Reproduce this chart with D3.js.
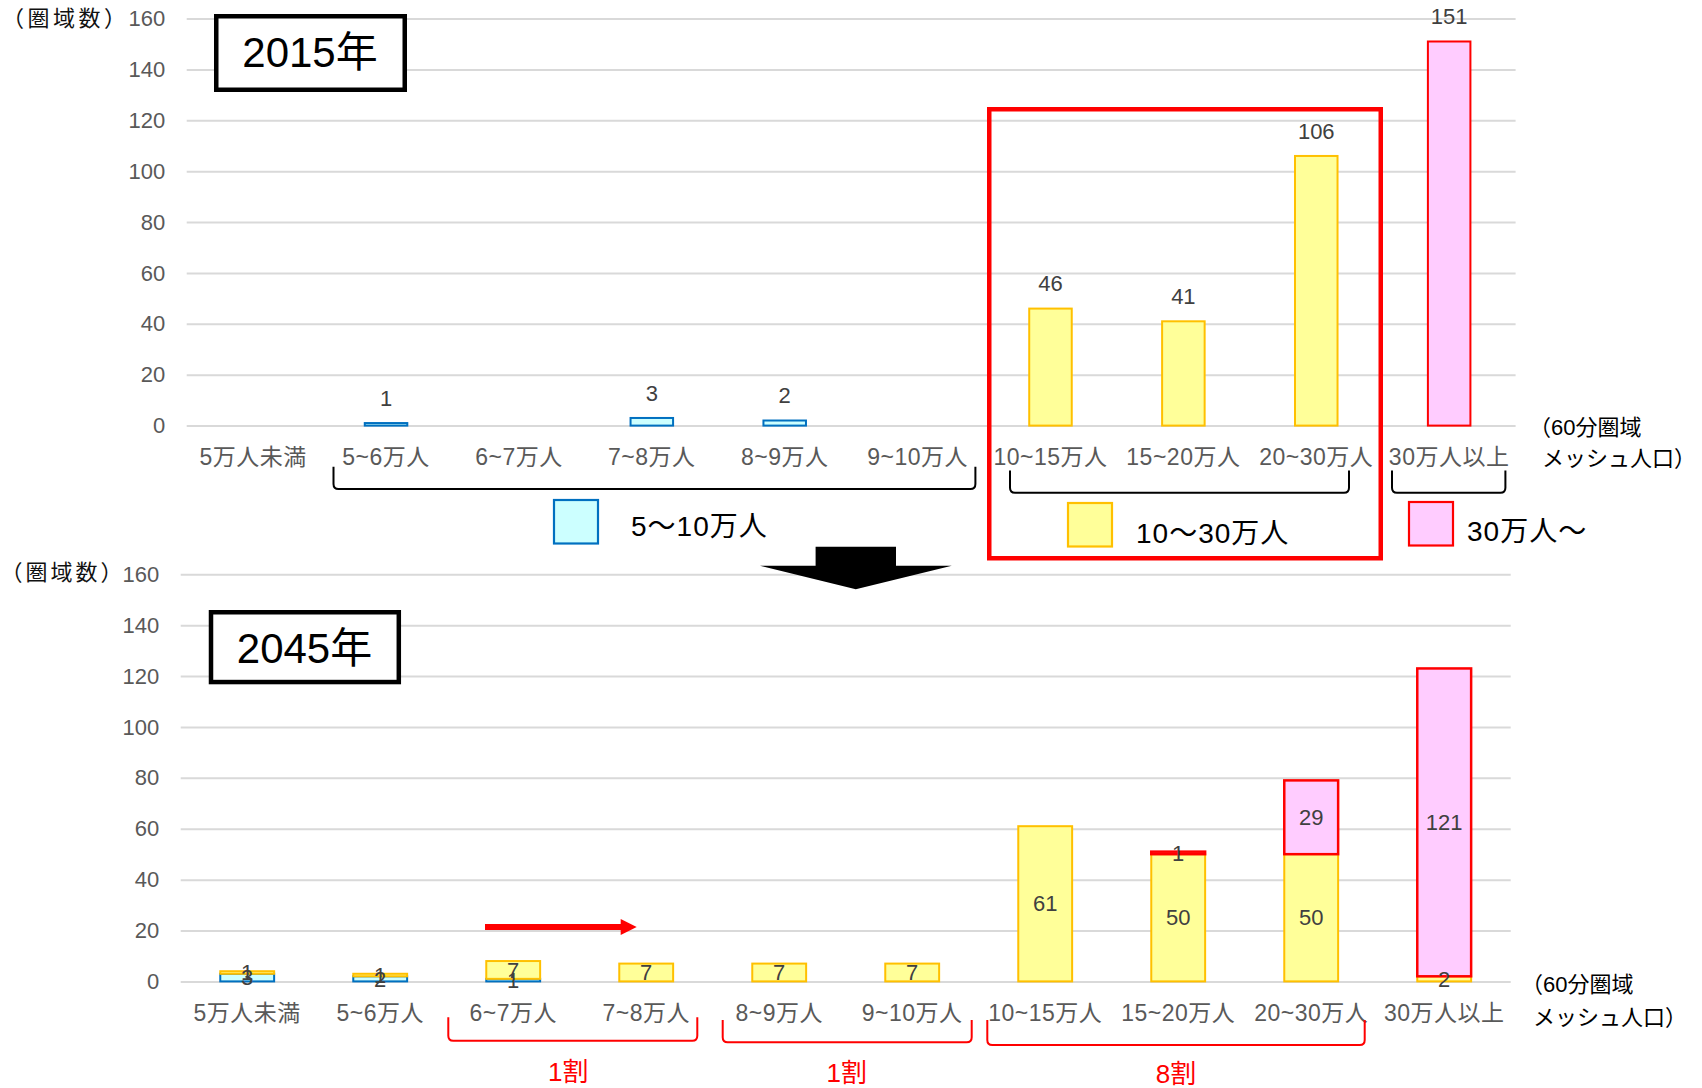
<!DOCTYPE html>
<html><head><meta charset="utf-8">
<script src="https://cdn.jsdelivr.net/npm/d3@7"></script>
<style>
body{margin:0;background:#fff}
text{font-family:'Liberation Sans',Arial,'Noto Sans CJK JP',sans-serif}
</style>
</head><body>
<svg id="c" width="1702" height="1088"></svg>
<script>
// ---------- data ----------
const categories = ["5万人未満","5~6万人","6~7万人","7~8万人","8~9万人","9~10万人","10~15万人","15~20万人","20~30万人","30万人以上"];
const yTicks = [0,20,40,60,80,100,120,140,160];
const seriesNames = ["5〜10万人","10〜30万人","30万人〜"];
const yearLabels = ["2015年","2045年"];
const shareLabels = ["1割","1割","8割"];
const yTitle = "（圏域数）";
const xTitle1 = "（60分圏域";
const xTitle2 = "メッシュ人口）";
// 2015
const top5to10  = [0,1,0,3,2,0,0,0,0,0];
const top10to30 = [0,0,0,0,0,0,46,41,106,0];
const top30plus = [0,0,0,0,0,0,0,0,0,151];
// 2045 (stacked by 2015 class)
const bot5to10  = [3,2,1,0,0,0,0,0,0,0];
const bot10to30 = [1,1,7,7,7,7,61,50,50,2];
const bot30plus = [0,0,0,0,0,0,0,1,29,121];

// ---------- styles ----------
const sty = [
  {fill:"#CCFFFF", stroke:"#0070C0"},
  {fill:"#FFFF99", stroke:"#FFC000"},
  {fill:"#FFCCFF", stroke:"#FF0000"}
];
const svg = d3.select("#c");

function panel(cfg){
  const x = d3.scaleBand().domain(categories).range([cfg.x0, cfg.x1])
    .paddingInner(cfg.pi).paddingOuter(cfg.pi/2);
  const y = d3.scaleLinear().domain([0,160]).range([cfg.yb, cfg.yt]);
  const g = svg.append("g");
  const ga = g.append("g").attr("transform",`translate(${cfg.x0},0)`)
    .call(d3.axisLeft(y).tickValues(yTicks).tickSize(-(cfg.x1-cfg.x0)).tickPadding(21.5));
  ga.select(".domain").remove();
  ga.selectAll(".tick line").attr("stroke","#D9D9D9").attr("stroke-width",2);
  ga.selectAll(".tick text").attr("fill","#595959").style("font-size","22px")
    .style("font-family","'Liberation Sans',Arial,sans-serif");
  const gx = g.append("g").attr("transform",`translate(0,${y(0)})`)
    .call(d3.axisBottom(x).tickSize(0).tickPadding(0));
  gx.select(".domain").remove();
  gx.selectAll(".tick text").attr("y",cfg.labOff).attr("dy","0.35em")
    .attr("fill","#595959").style("font-size","23px").style("letter-spacing","0.5px");
  return {g,x,y};
}

// ---------- 2015 ----------
const P1 = panel({x0:186.7,x1:1515.6,yb:425.6,yt:18.6,pi:0.68,labOff:31});
[top5to10,top10to30,top30plus].forEach((arr,si)=>{
  const d = categories.map((c,i)=>({c,v:arr[i]})).filter(o=>o.v>0);
  P1.g.selectAll(null).data(d).enter().append("rect")
    .attr("x",o=>P1.x(o.c)).attr("width",P1.x.bandwidth())
    .attr("y",o=>P1.y(o.v)).attr("height",o=>P1.y(0)-P1.y(o.v))
    .attr("fill",sty[si].fill).attr("stroke",sty[si].stroke).attr("stroke-width",2);
  P1.g.selectAll(null).data(d).enter().append("text")
    .attr("x",o=>P1.x(o.c)+P1.x.bandwidth()/2).attr("y",o=>P1.y(o.v)-25)
    .attr("dy","0.35em").attr("text-anchor","middle").attr("fill","#404040")
    .style("font-size","22px").text(o=>o.v);
});

// ---------- 2045 ----------
const P2 = panel({x0:180.7,x1:1510.7,yb:981.4,yt:574.3,pi:0.595,labOff:32});
const stackData = categories.map((c,i)=>({cat:c,s0:bot5to10[i],s1:bot10to30[i],s2:bot30plus[i]}));
const layers = d3.stack().keys(["s0","s1","s2"])(stackData);
layers.forEach((layer,si)=>{
  const d = layer.filter(s=>s[1]-s[0]>0);
  P2.g.selectAll(null).data(d).enter().append("rect")
    .attr("x",s=>P2.x(s.data.cat)).attr("width",P2.x.bandwidth())
    .attr("y",s=>P2.y(s[1])).attr("height",s=>P2.y(s[0])-P2.y(s[1]))
    .attr("fill",sty[si].fill).attr("stroke",sty[si].stroke).attr("stroke-width",si===2?2.5:2);
});
layers.forEach((layer,si)=>{
  const d = layer.filter(s=>s[1]-s[0]>0);
  P2.g.selectAll(null).data(d).enter().append("text")
    .attr("x",s=>P2.x(s.data.cat)+P2.x.bandwidth()/2).attr("y",s=>P2.y((s[0]+s[1])/2))
    .attr("dy","0.35em").attr("text-anchor","middle").attr("fill","#404040")
    .style("font-size","22px").text(s=>s[1]-s[0]);
});

// ---------- annotations ----------
const A = svg.append("g");
A.append("text").attr("x",2).attr("y",18.3).attr("dy","0.35em")
  .style("font-size","22px").style("letter-spacing","3.5px").attr("fill","#111").text(yTitle);
A.append("text").attr("x",0.5).attr("y",572.4).attr("dy","0.35em")
  .style("font-size","22px").style("letter-spacing","3px").attr("fill","#111").text(yTitle);
[[1529,427,1542,458.7],[1521,984.6,1533,1017]].forEach(p=>{
  A.append("text").attr("x",p[0]).attr("y",p[1]).attr("dy","0.35em").style("font-size","22px").attr("fill","#000").text(xTitle1);
  A.append("text").attr("x",p[2]).attr("y",p[3]).attr("dy","0.35em").style("font-size","22px").attr("fill","#000").text(xTitle2);
});
[[216.25,16.25,188.5,73.5,310,66.7],[211,612.25,187.8,69.8,304.5,663.3]].forEach((b,i)=>{
  A.append("rect").attr("x",b[0]).attr("y",b[1]).attr("width",b[2]).attr("height",b[3])
    .attr("fill","#fff").attr("stroke","#000").attr("stroke-width",4.5);
  A.append("text").attr("x",b[4]).attr("y",b[5]).attr("text-anchor","middle")
    .style("font-size","42px").attr("fill","#000").text(yearLabels[i]);
});
function bracket(x0,x1,yt,yb,r){
  return `M${x0},${yt} L${x0},${yb-r} Q${x0},${yb} ${x0+r},${yb} L${x1-r},${yb} Q${x1},${yb} ${x1},${yb-r} L${x1},${yt}`;
}
[[333.5,975.4,466.7,489],[1010,1349,470.6,492.8],[1392,1505.4,470.6,492.8]].forEach(b=>{
  A.append("path").attr("d",bracket(b[0],b[1],b[2],b[3],5)).attr("fill","none").attr("stroke","#000").attr("stroke-width",2);
});
[[448.3,697.3,1017.3,1040.7],[722.7,971.7,1020,1042.3],[987.3,1364.7,1020,1045]].forEach(b=>{
  A.append("path").attr("d",bracket(b[0],b[1],b[2],b[3],5)).attr("fill","none").attr("stroke","#FF0000").attr("stroke-width",2);
});
[[568.3,1071.7],[846.7,1072.7],[1176,1074]].forEach((p,i)=>{
  A.append("text").attr("x",p[0]).attr("y",p[1]).attr("dy","0.35em").attr("text-anchor","middle")
    .style("font-size","26px").attr("fill","#FF0000").text(shareLabels[i]);
});
[[553,499,631,526],[1067,502,1136,532.7],[1408,501,1467,531]].forEach((l,i)=>{
  A.append("rect").attr("x",l[0]+1).attr("y",l[1]+1).attr("width",44).attr("height",43.5)
    .attr("fill",sty[i].fill).attr("stroke",sty[i].stroke).attr("stroke-width",2.2);
  A.append("text").attr("x",l[2]).attr("y",l[3]).attr("dy","0.35em").style("font-size","28px")
    .style("letter-spacing","1px").attr("fill","#000").text(seriesNames[i]);
});
A.append("rect").attr("x",989.25).attr("y",109.25).attr("width",391.5).attr("height",449)
  .attr("fill","none").attr("stroke","#FF0000").attr("stroke-width",4.5);
A.append("polygon").attr("points","815.6,546.7 896,546.7 896,565.7 951.8,565.7 855.8,589.3 760,565.7 815.6,565.7").attr("fill","#000");
A.append("rect").attr("x",485).attr("y",924).attr("width",137).attr("height",6).attr("fill","#FF0000");
A.append("polygon").attr("points","620.7,919 636.7,927 620.7,935").attr("fill","#FF0000");
</script>
</body></html>
